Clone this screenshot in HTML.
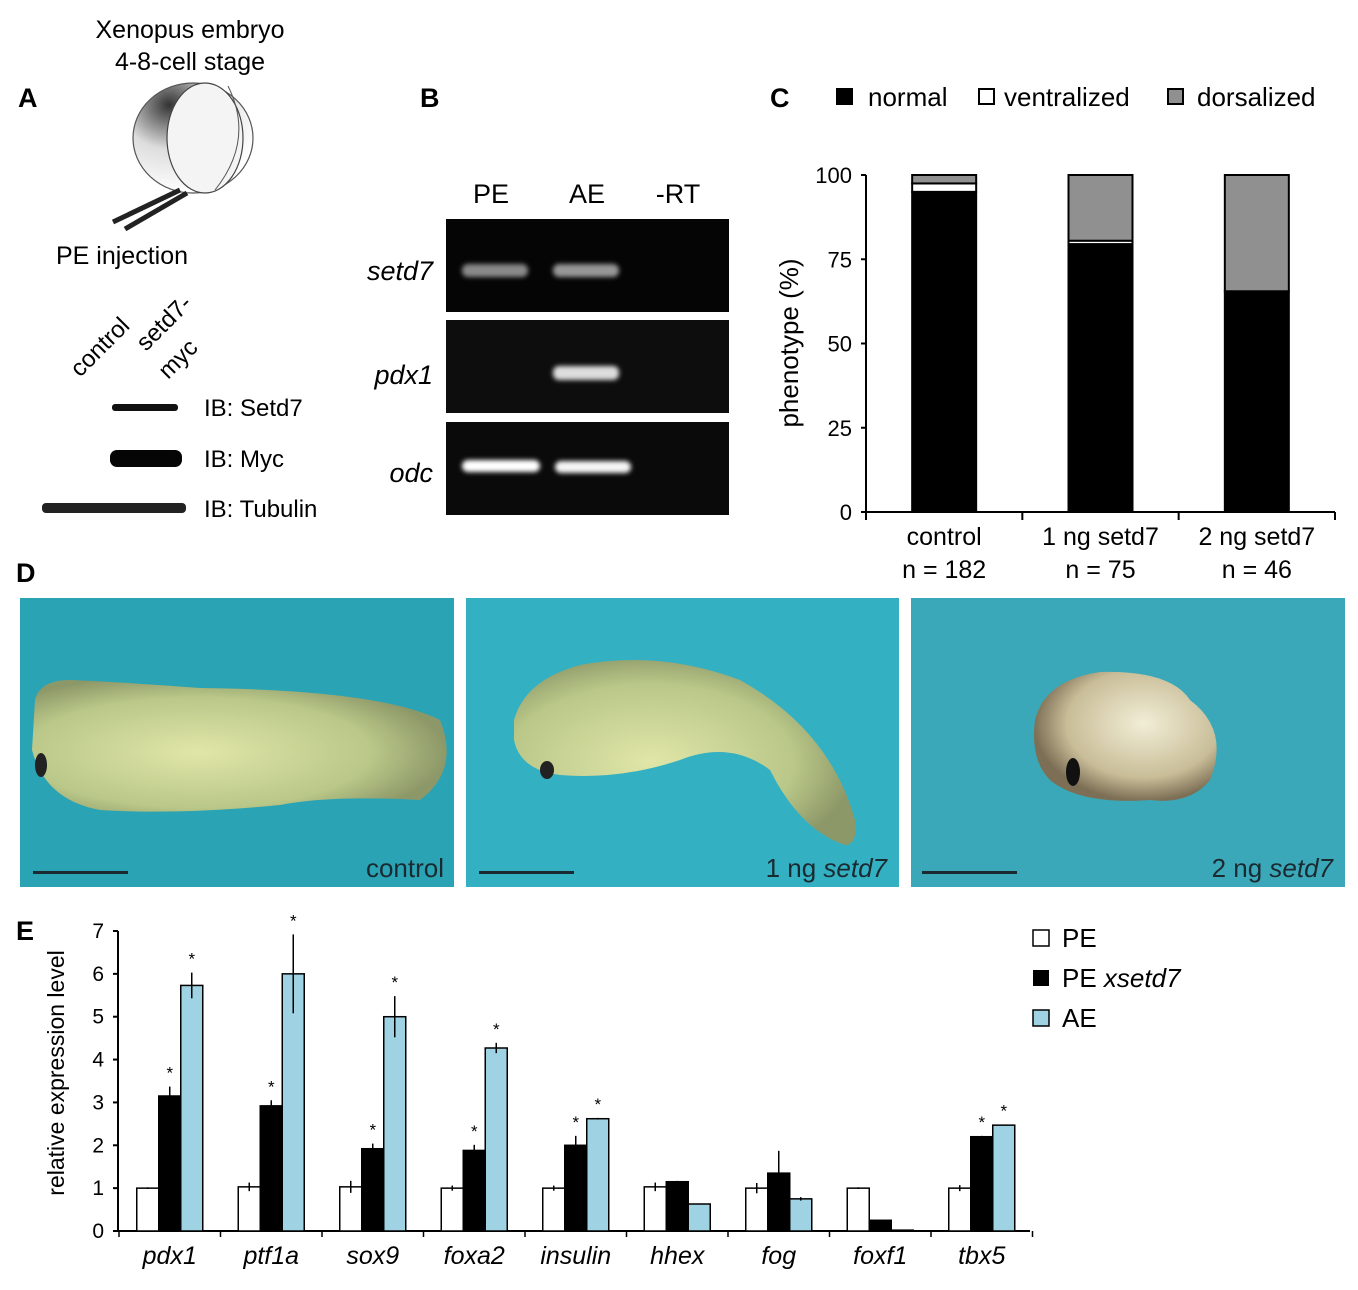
<!DOCTYPE html>
<html><head><meta charset="utf-8"><style>
html,body{margin:0;padding:0;background:#fff;}
svg{display:block;font-family:"Liberation Sans",sans-serif;}
</style></head><body>
<svg id="fig" width="1358" height="1290" viewBox="0 0 1358 1290" xmlns="http://www.w3.org/2000/svg">
<defs>
<radialGradient id="egg" cx="0.3" cy="0.2" r="0.8"><stop offset="0" stop-color="#333"/><stop offset="0.5" stop-color="#ddd"/><stop offset="1" stop-color="#fff"/></radialGradient>
<radialGradient id="emb" cx="0.4" cy="0.55" r="0.6"><stop offset="0" stop-color="#e0e6a8"/><stop offset="0.7" stop-color="#b9c788"/><stop offset="1" stop-color="#8d9868"/></radialGradient>
<radialGradient id="emb3" cx="0.6" cy="0.4" r="0.6"><stop offset="0" stop-color="#f1eed6"/><stop offset="0.7" stop-color="#c9bd98"/><stop offset="1" stop-color="#7d6f55"/></radialGradient>
<filter id="blur"><feGaussianBlur stdDeviation="2.5"/></filter>
</defs>

<!-- Panel A -->
<g>
<text x="18" y="107" font-size="27" font-weight="bold">A</text>
<text x="190" y="38" font-size="25" text-anchor="middle">Xenopus embryo</text>
<text x="190" y="70" font-size="25" text-anchor="middle">4-8-cell stage</text>
<g>
<ellipse cx="193" cy="138" rx="60" ry="55" fill="url(#egg)" stroke="#555" stroke-width="1.2"/>
<ellipse cx="205" cy="138" rx="38" ry="55" fill="#f4f4f4" stroke="#444" stroke-width="1.2"/>
<path d="M228 86 Q255 140 215 190" fill="none" stroke="#555" stroke-width="1"/>
<line x1="180" y1="190" x2="113" y2="222" stroke="#222" stroke-width="5"/>
<line x1="187" y1="193" x2="125" y2="229" stroke="#222" stroke-width="5"/>
</g>
<text x="122" y="264" font-size="25" text-anchor="middle">PE injection</text>
<text transform="translate(80,378) rotate(-45)" font-size="24">control</text>
<text transform="translate(146,352) rotate(-45)" font-size="24">setd7-</text>
<text transform="translate(168,380) rotate(-45)" font-size="24">myc</text>
<rect x="112" y="404" width="66" height="7" rx="3" fill="#111"/>
<rect x="110" y="450" width="72" height="17" rx="7" fill="#050505"/>
<rect x="42" y="503" width="144" height="10" rx="4" fill="#222"/>
<text x="204" y="416" font-size="24">IB: Setd7</text>
<text x="204" y="467" font-size="24">IB: Myc</text>
<text x="204" y="517" font-size="24">IB: Tubulin</text>
</g>

<!-- Panel B -->
<g>
<text x="420" y="107" font-size="27" font-weight="bold">B</text>
<text x="491" y="203" font-size="27" text-anchor="middle">PE</text>
<text x="587" y="203" font-size="27" text-anchor="middle">AE</text>
<text x="678" y="203" font-size="27" text-anchor="middle">-RT</text>
<rect x="446" y="219" width="283" height="93" fill="#050505"/>
<rect x="446" y="320" width="283" height="93" fill="#0d0d0d"/>
<rect x="446" y="422" width="283" height="93" fill="#0a0a0a"/>
<g filter="url(#blur)">
<rect x="462" y="264" width="66" height="13" rx="6" fill="#aaa" opacity="0.8"/>
<rect x="553" y="264" width="66" height="13" rx="6" fill="#bbb" opacity="0.8"/>
<rect x="553" y="366" width="66" height="14" rx="6" fill="#ddd"/>
<rect x="462" y="460" width="78" height="12" rx="6" fill="#fff"/>
<rect x="555" y="461" width="76" height="12" rx="6" fill="#f4f4f4"/>
</g>
<text x="433" y="280" font-size="27" font-style="italic" text-anchor="end">setd7</text>
<text x="433" y="384" font-size="27" font-style="italic" text-anchor="end">pdx1</text>
<text x="433" y="482" font-size="27" font-style="italic" text-anchor="end">odc</text>
</g>

<!-- Panel C -->
<g id="panelC">
<text x="770" y="107" font-size="27" font-weight="bold">C</text>
<rect x="836" y="88" width="17" height="17" fill="#000"/>
<text x="868" y="106" font-size="26">normal</text>
<rect x="979" y="89" width="15" height="15" fill="#fff" stroke="#000" stroke-width="2"/>
<text x="1004" y="106" font-size="26">ventralized</text>
<rect x="1168" y="89" width="15" height="15" fill="#909090" stroke="#000" stroke-width="2"/>
<text x="1197" y="106" font-size="26">dorsalized</text>
<text transform="translate(798,343) rotate(-90)" font-size="26" text-anchor="middle">phenotype (%)</text>
</g>

<!-- Panel D -->
<g>
<text x="16" y="582" font-size="27" font-weight="bold">D</text>
<rect x="20" y="598" width="434" height="289" fill="#2aa3b4"/>
<rect x="466" y="598" width="433" height="289" fill="#33b0c2"/>
<rect x="911" y="598" width="434" height="289" fill="#3aa8b8"/>
<path d="M35 700 Q40 680 70 680 Q120 682 200 688 Q380 690 440 720 Q460 770 420 800 Q330 795 280 805 Q180 815 100 810 Q45 800 32 750 Z" fill="url(#emb)"/>
<ellipse cx="41" cy="765" rx="6" ry="12" fill="#222"/>
<path d="M514 720 Q525 680 580 665 Q660 650 740 680 Q830 730 855 820 Q858 845 845 845 Q800 830 770 770 Q730 740 680 760 Q620 780 560 775 Q520 770 514 740 Z" fill="url(#emb)"/>
<ellipse cx="547" cy="770" rx="7" ry="9" fill="#222"/>
<path d="M1035 720 Q1045 680 1100 672 Q1170 670 1190 700 Q1230 730 1210 780 Q1190 805 1150 800 Q1080 805 1050 780 Q1030 760 1035 720 Z" fill="url(#emb3)"/>
<ellipse cx="1073" cy="772" rx="7" ry="14" fill="#111"/>
<rect x="33" y="871" width="95" height="3" fill="#1a2a30"/>
<rect x="479" y="871" width="95" height="3" fill="#1a2a30"/>
<rect x="922" y="871" width="95" height="3" fill="#1a2a30"/>
<text x="444" y="877" font-size="26" text-anchor="end" fill="#1a2a30">control</text>
<text x="887" y="877" font-size="26" text-anchor="end" fill="#1a2a30">1 ng <tspan font-style="italic">setd7</tspan></text>
<text x="1333" y="877" font-size="26" text-anchor="end" fill="#1a2a30">2 ng <tspan font-style="italic">setd7</tspan></text>
</g>

<!-- Panel E -->
<g id="panelE">
<text x="16" y="940" font-size="27" font-weight="bold">E</text>
<text transform="translate(64,1073) rotate(-90)" font-size="23" text-anchor="middle">relative expression level</text>
<rect x="1033" y="930" width="16" height="16" fill="#fff" stroke="#000" stroke-width="1.5"/>
<text x="1062" y="947" font-size="26">PE</text>
<rect x="1033" y="970" width="16" height="16" fill="#000"/>
<text x="1062" y="987" font-size="26">PE <tspan font-style="italic">xsetd7</tspan></text>
<rect x="1033" y="1010" width="16" height="16" fill="#9fd3e3" stroke="#000" stroke-width="1.5"/>
<text x="1062" y="1027" font-size="26">AE</text>
</g>
</svg>
<script>
// Panel C data
const cCategories = ["control", "1 ng setd7", "2 ng setd7"];
const cN = ["n = 182", "n = 75", "n = 46"];
const cNormal = [95, 79.5, 65.5];
const cVentral = [2.5, 1, 0];
const cDorsal = [2.5, 19.5, 34.5];
const cTicks = [0, 25, 50, 75, 100];

// Panel E data
const eGenes = ["pdx1", "ptf1a", "sox9", "foxa2", "insulin", "hhex", "fog", "foxf1", "tbx5"];
const ePE = [1, 1.03, 1.03, 1, 1, 1.03, 1, 1, 1];
const ePEerr = [0.02, 0.1, 0.14, 0.06, 0.06, 0.1, 0.12, 0.02, 0.07];
const eX7 = [3.15, 2.92, 1.92, 1.88, 2.0, 1.15, 1.35, 0.25, 2.2];
const eX7err = [0.22, 0.13, 0.12, 0.13, 0.22, 0.02, 0.52, 0.01, 0.02];
const eAE = [5.73, 6.0, 5.0, 4.27, 2.62, 0.63, 0.75, 0.02, 2.47];
const eAEerr = [0.3, 0.92, 0.48, 0.12, 0.02, 0.01, 0.04, 0.0, 0.01];
const eStarX7 = [1, 1, 1, 1, 1, 0, 0, 0, 1];
const eStarAE = [1, 1, 1, 1, 1, 0, 0, 0, 1];
const eTicks = [0, 1, 2, 3, 4, 5, 6, 7];

const NS = "http://www.w3.org/2000/svg";
function mk(parent, tag, attrs, text) {
  const el = document.createElementNS(NS, tag);
  for (const k in attrs) el.setAttribute(k, attrs[k]);
  if (text !== undefined) el.textContent = text;
  parent.appendChild(el);
  return el;
}

// ---- Panel C ----
(function () {
  const g = document.getElementById("panelC");
  const x0 = 866, x1 = 1335, y0 = 512, y100 = 175;
  const yC = v => y0 - (v / 100) * (y0 - y100);
  const step = (x1 - x0) / cCategories.length;
  const barW = 64;
  let ax = mk(g, "line", {x1: x0, y1: y100, x2: x0, y2: y0, stroke: "#000", "stroke-width": 2});
  
  
  ax = mk(g, "line", {x1: x0, y1: y0, x2: x1, y2: y0, stroke: "#000", "stroke-width": 2});
  
  
  cTicks.forEach(t => {
    mk(g, "line", {x1: x0 - 5, y1: yC(t), x2: x0, y2: yC(t), stroke: "#000", "stroke-width": 2});
    const tl = mk(g, "text", {x: x0 - 14, y: yC(t) + 8, "font-size": 22, "text-anchor": "end"}, String(t));
    
    
  });
  for (let i = 0; i <= cCategories.length; i++) {
    mk(g, "line", {x1: x0 + i * step, y1: y0, x2: x0 + i * step, y2: y0 + 8, stroke: "#000", "stroke-width": 2});
  }
  cCategories.forEach((c, i) => {
    const cx = x0 + step * (i + 0.5);
    const bx = cx - barW / 2;
    const segs = [[cNormal[i], "#000", "normal"], [cVentral[i], "#fff", "ventralized"], [cDorsal[i], "#909090", "dorsalized"]];
    let base = 0;
    segs.forEach(s => {
      if (s[0] <= 0) return;
      const r = mk(g, "rect", {x: bx, y: yC(base + s[0]), width: barW, height: yC(base) - yC(base + s[0]), fill: s[1], stroke: "#000", "stroke-width": 2});
      
      
      base += s[0];
    });
    const l1 = mk(g, "text", {x: cx, y: 545, "font-size": 25, "text-anchor": "middle"}, c);
    
    
    const l2 = mk(g, "text", {x: cx, y: 578, "font-size": 25, "text-anchor": "middle"}, cN[i]);
    
    
  });
})();

// ---- Panel E ----
(function () {
  const g = document.getElementById("panelE");
  const x0 = 118, x1 = 1030, y0 = 1231, y7 = 931;
  const yE = v => y0 - (v / 7) * (y0 - y7);
  const step = 101.5, start = 119, bw = 22;
  let ax = mk(g, "line", {x1: x0, y1: y7, x2: x0, y2: y0, stroke: "#000", "stroke-width": 2});
  
  
  ax = mk(g, "line", {x1: x0, y1: y0, x2: x1, y2: y0, stroke: "#000", "stroke-width": 2});
  
  
  eTicks.forEach(t => {
    mk(g, "line", {x1: x0 - 5, y1: yE(t), x2: x0, y2: yE(t), stroke: "#000", "stroke-width": 2});
    const tl = mk(g, "text", {x: x0 - 14, y: yE(t) + 7, "font-size": 21, "text-anchor": "end"}, String(t));
    
    
  });
  for (let i = 0; i <= eGenes.length; i++) {
    mk(g, "line", {x1: start + i * step, y1: y0, x2: start + i * step, y2: y0 + 6, stroke: "#000", "stroke-width": 1.5});
  }
  eGenes.forEach((gene, i) => {
    const cx = start + step * (i + 0.5);
    const series = [[ePE[i], ePEerr[i], "#fff", "pe", 0], [eX7[i], eX7err[i], "#000", "pe-xsetd7", eStarX7[i]], [eAE[i], eAEerr[i], "#9fd3e3", "ae", eStarAE[i]]];
    series.forEach((s, j) => {
      const bx = cx - 1.5 * bw + j * bw;
      const r = mk(g, "rect", {x: bx, y: yE(s[0]), width: bw, height: y0 - yE(s[0]), fill: s[2], stroke: "#000", "stroke-width": 1.5});
      
      
      const mx = bx + bw / 2;
      if (s[1] > 0) {
        mk(g, "line", {x1: mx, y1: yE(s[0] + s[1]), x2: mx, y2: yE(s[0] - s[1]), stroke: "#000", "stroke-width": 1.5});
      }
      if (s[4]) {
        const st = mk(g, "text", {x: mx, y: yE(s[0] + s[1]) - 8, "font-size": 17, "text-anchor": "middle"}, "*");
        
        
      }
    });
    const lbl = mk(g, "text", {x: cx, y: 1264, "font-size": 25, "font-style": "italic", "text-anchor": "middle"}, gene);
    
    
  });
})();
</script>
</body></html>
